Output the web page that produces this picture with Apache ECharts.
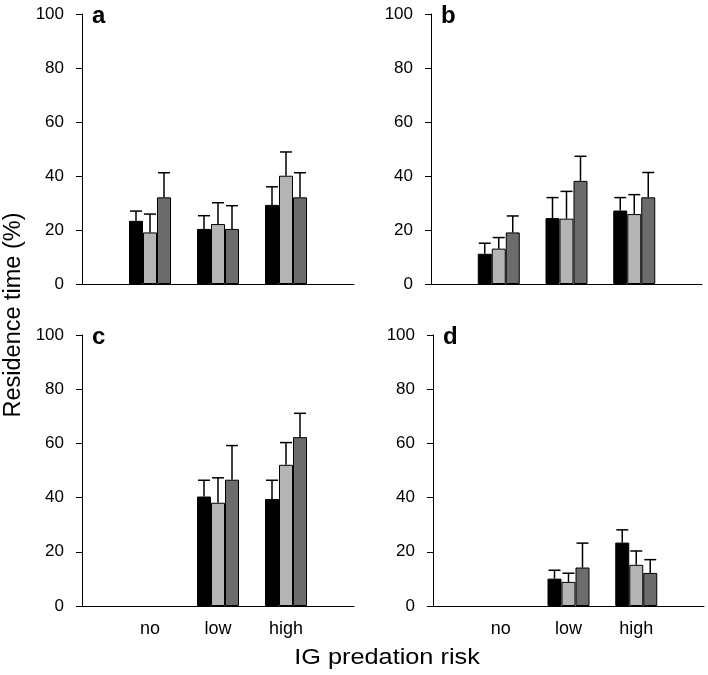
<!DOCTYPE html>
<html>
<head>
<meta charset="utf-8">
<script src="https://cdn.jsdelivr.net/npm/echarts@6/dist/echarts.min.js"></script>
<style>html,body{margin:0;padding:0;background:#fff;}#c{width:708px;height:675px;}</style>
</head>
<body>
<div id="c"></div>
<script>
// categories along x (empty slots at the ends)
const categories = ['', 'no', 'low', 'high', ''];
const yTicks = [0, 20, 40, 60, 80, 100];
const panelLetters = ['a', 'b', 'c', 'd'];

// means per group (no, low, high) and standard errors
const a_black = [23.4, 20.4, 29.3], a_black_se = [3.6, 4.9, 6.7];
const a_light = [19.1, 22.2, 40.1], a_light_se = [6.8, 7.9, 8.8];
const a_dark  = [32.1, 20.4, 32.1], a_dark_se  = [9.1, 8.6, 9.1];

const b_black = [11.2, 24.4, 27.2], b_black_se = [3.9, 7.6, 4.8];
const b_light = [13.1, 24.2, 25.9], b_light_se = [4.1, 10.1, 7.2];
const b_dark  = [19.1, 38.2, 32.1], b_dark_se  = [6.1, 9.1, 9.2];

const c_black = [null, 40.4, 39.5], c_black_se = [null, 6.0, 6.9];
const c_light = [null, 38.1, 52.1], c_light_se = [null, 9.2, 8.2];
const c_dark  = [null, 46.6, 62.3], c_dark_se  = [null, 12.6, 8.8];

const d_black = [null, 10.1, 23.4], d_black_se = [null, 3.1, 4.7];
const d_light = [null, 8.9, 15.2],  d_light_se = [null, 3.2, 5.1];
const d_dark  = [null, 14.2, 12.2], d_dark_se  = [null, 9.0, 4.9];

const panels = [
  [[a_black, a_black_se], [a_light, a_light_se], [a_dark, a_dark_se]],
  [[b_black, b_black_se], [b_light, b_light_se], [b_dark, b_dark_se]],
  [[c_black, c_black_se], [c_light, c_light_se], [c_dark, c_dark_se]],
  [[d_black, d_black_se], [d_light, d_light_se], [d_dark, d_dark_se]]
];

const colors = ['#000000', '#b4b4b4', '#6c6c6c'];
const grids = [
  {left: 82, top: 14, width: 272, height: 270},
  {left: 431, top: 14, width: 271, height: 270},
  {left: 82, top: 335, width: 272, height: 271},
  {left: 433, top: 335, width: 271, height: 271}
];
const FONT = 'Liberation Sans, Arial, sans-serif';
const BW = 14;

const xAxes = [], yAxes = [], series = [], graphics = [];
grids.forEach((g, i) => {
  xAxes.push({
    type: 'category', gridIndex: i, data: categories, boundaryGap: false,
    axisLine: {lineStyle: {color: '#000', width: 1}},
    axisTick: {show: false},
    axisLabel: {show: i >= 2, color: '#000', fontSize: 18, fontFamily: FONT, margin: 14, interval: 0}
  });
  yAxes.push({
    type: 'value', gridIndex: i, min: yTicks[0], max: yTicks[yTicks.length - 1], interval: 20,
    axisLine: {show: true, lineStyle: {color: '#000', width: 1}},
    axisTick: {show: true, length: 6, lineStyle: {color: '#000'}},
    splitLine: {show: false},
    axisLabel: {color: '#000', fontSize: 17, fontFamily: FONT, margin: 18}
  });
  panels[i].forEach((pair, k) => {
    const vals = pair[0], se = pair[1];
    const barData = [null].concat(vals).concat([null]);
    series.push({
      type: 'bar', xAxisIndex: i, yAxisIndex: i, data: barData,
      barWidth: BW, barGap: '0%',
      itemStyle: {color: colors[k], borderColor: '#000', borderWidth: 1},
      silent: true, animation: false
    });
    const errData = [];
    vals.forEach((v, j) => { if (v != null) errData.push([j + 1, v, v + se[j]]); });
    const off = (k - 1) * BW;
    series.push({
      type: 'custom', xAxisIndex: i, yAxisIndex: i, data: errData, z: 5,
      animation: false, silent: true,
      renderItem: function (params, api) {
        const p0 = api.coord([api.value(0), api.value(1)]);
        const p1 = api.coord([api.value(0), api.value(2)]);
        const cx = p0[0] + off;
        return {type: 'group', children: [
          {type: 'line', shape: {x1: cx, y1: p0[1], x2: cx, y2: p1[1]}, style: {stroke: '#000', lineWidth: 1.5}},
          {type: 'line', shape: {x1: cx - 6, y1: p1[1], x2: cx + 6, y2: p1[1]}, style: {stroke: '#000', lineWidth: 1.5}}
        ]};
      }
    });
  });
  graphics.push({
    type: 'text', left: g.left + 10, top: g.top - 10,
    style: {text: panelLetters[i], font: 'bold 24px ' + FONT, fill: '#000'}
  });
});

graphics.push({
  type: 'text', x: 387, y: 658, scaleX: 1.15,
  style: {text: 'IG predation risk', font: '22px ' + FONT, fill: '#000', textAlign: 'center', textVerticalAlign: 'middle'}
});
graphics.push({
  type: 'text', x: 14, y: 315, rotation: Math.PI / 2,
  style: {text: 'Residence time (%)', font: '23.5px ' + FONT, fill: '#000', textAlign: 'center', textVerticalAlign: 'middle'}
});

const chart = echarts.init(document.getElementById('c'), null, {renderer: 'canvas'});
chart.setOption({
  animation: false,
  grid: grids,
  xAxis: xAxes,
  yAxis: yAxes,
  series: series,
  graphic: graphics
});
</script>
</body>
</html>
